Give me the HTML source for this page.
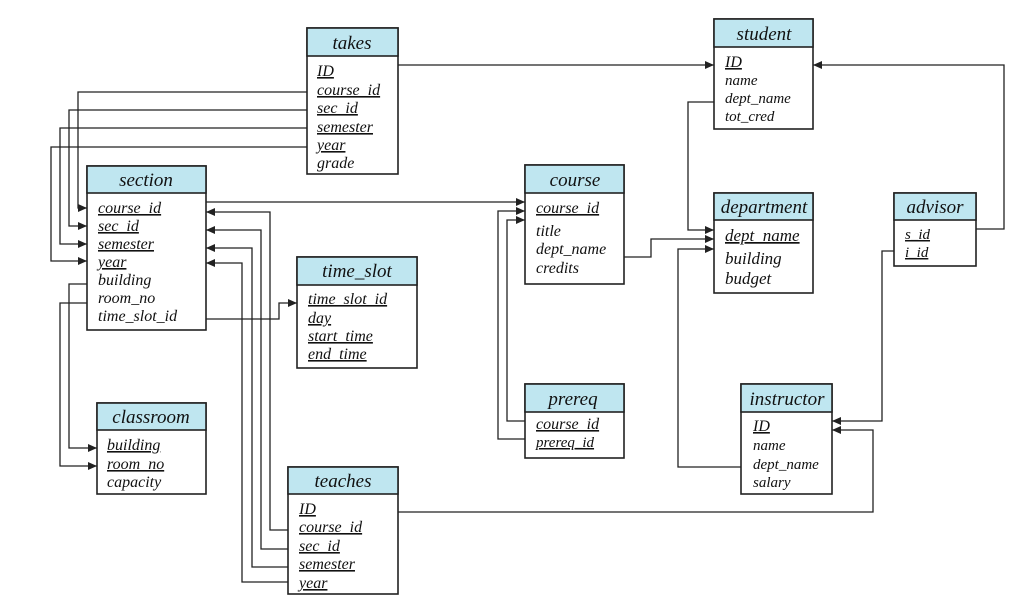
<!DOCTYPE html>
<html><head><meta charset="utf-8"><style>
html,body{margin:0;padding:0;background:#fff;}
svg{display:block;}
text{font-family:"Liberation Serif",serif;font-style:italic;fill:#111;}
.h{font-size:19px;text-anchor:middle;}
.r{font-size:16px;}
.s{font-size:15px;}
.u{text-decoration:underline;}
.hd{fill:#bfe6f0;stroke:#222;stroke-width:1.6;}
.bx{fill:#fff;stroke:#222;stroke-width:1.6;}
.ln{fill:none;stroke:#222;stroke-width:1.3;}
</style></head><body>
<svg width="1024" height="609" viewBox="0 0 1024 609" xmlns="http://www.w3.org/2000/svg">
<defs><marker id="a" markerWidth="9" markerHeight="8" refX="9" refY="4" orient="auto" markerUnits="userSpaceOnUse"><path d="M0,0 L9,4 L0,8 Z" fill="#222"/></marker></defs>

<g class="ln" marker-end="url(#a)">
<path d="M398,65 H714"/>
<path d="M307,92 H78 V208 H87"/>
<path d="M307,110 H69 V226 H87"/>
<path d="M307,128 H60 V244 H87"/>
<path d="M307,147 H51 V261 H87"/>
<path d="M288,530 H270 V212 H206"/>
<path d="M288,549 H261 V230 H206"/>
<path d="M288,567 H252 V248 H206"/>
<path d="M288,582 H242 V263 H206"/>
<path d="M206,202 H525"/>
<path d="M525,421 H507 V220 H525"/>
<path d="M525,439 H498 V211 H525"/>
<path d="M206,319 H279 V303 H297"/>
<path d="M87,284 H69 V448 H97"/>
<path d="M87,303 H60 V466 H97"/>
<path d="M624,257 H651 V239 H714"/>
<path d="M714,102 H688 V230 H714"/>
<path d="M741,467 H678 V249 H714"/>
<path d="M976,229 H1004 V65 H813"/>
<path d="M894,251 H882 V421 H832"/>
<path d="M398,512 H873 V430 H832"/>
</g>

<rect class="bx" x="307" y="28" width="91" height="146"/><rect class="hd" x="307" y="28" width="91" height="28"/>
<text class="h" x="352" y="49">takes</text>
<text class="r u" x="317" y="76">ID</text>
<text class="r u" x="317" y="95">course_id</text>
<text class="r u" x="317" y="113">sec_id</text>
<text class="r u" x="317" y="132">semester</text>
<text class="r u" x="317" y="150">year</text>
<text class="r" x="317" y="168">grade</text>

<rect class="bx" x="87" y="166" width="119" height="164"/><rect class="hd" x="87" y="166" width="119" height="27"/>
<text class="h" x="146" y="186">section</text>
<text class="r u" x="98" y="213">course_id</text>
<text class="r u" x="98" y="231">sec_id</text>
<text class="r u" x="98" y="249">semester</text>
<text class="r u" x="98" y="267">year</text>
<text class="r" x="98" y="285">building</text>
<text class="r" x="98" y="303">room_no</text>
<text class="r" x="98" y="321">time_slot_id</text>

<rect class="bx" x="297" y="257" width="120" height="111"/><rect class="hd" x="297" y="257" width="120" height="28"/>
<text class="h" x="357" y="277">time_slot</text>
<text class="r u" x="308" y="304">time_slot_id</text>
<text class="r u" x="308" y="323">day</text>
<text class="r u" x="308" y="341">start_time</text>
<text class="r u" x="308" y="359">end_time</text>

<rect class="bx" x="97" y="403" width="109" height="91"/><rect class="hd" x="97" y="403" width="109" height="27"/>
<text class="h" x="151" y="423">classroom</text>
<text class="r u" x="107" y="450">building</text>
<text class="r u" x="107" y="469">room_no</text>
<text class="r" x="107" y="487">capacity</text>

<rect class="bx" x="288" y="467" width="110" height="127"/><rect class="hd" x="288" y="467" width="110" height="27"/>
<text class="h" x="343" y="487">teaches</text>
<text class="r u" x="299" y="514">ID</text>
<text class="r u" x="299" y="532">course_id</text>
<text class="r u" x="299" y="551">sec_id</text>
<text class="r u" x="299" y="569">semester</text>
<text class="r u" x="299" y="588">year</text>

<rect class="bx" x="525" y="165" width="99" height="119"/><rect class="hd" x="525" y="165" width="99" height="28"/>
<text class="h" x="575" y="186">course</text>
<text class="r u" x="536" y="213">course_id</text>
<text class="r" x="536" y="236">title</text>
<text class="r" x="536" y="254">dept_name</text>
<text class="r" x="536" y="273">credits</text>

<rect class="bx" x="525" y="384" width="99" height="74"/><rect class="hd" x="525" y="384" width="99" height="28"/>
<text class="h" x="573" y="405">prereq</text>
<text class="r u" x="536" y="429">course_id</text>
<text class="s u" x="536" y="447">prereq_id</text>

<rect class="bx" x="714" y="19" width="99" height="110"/><rect class="hd" x="714" y="19" width="99" height="28"/>
<text class="h" x="764" y="40">student</text>
<text class="r u" x="725" y="67">ID</text>
<text class="s" x="725" y="85">name</text>
<text class="s" x="725" y="103">dept_name</text>
<text class="s" x="725" y="121">tot_cred</text>

<rect class="bx" x="714" y="193" width="99" height="100"/><rect class="hd" x="714" y="193" width="99" height="27"/>
<text class="h" x="764" y="213">department</text>
<text class="r u" x="725" y="241" style="font-size:17px">dept_name</text>
<text class="r" x="725" y="264" style="font-size:17px">building</text>
<text class="r" x="725" y="284" style="font-size:17px">budget</text>

<rect class="bx" x="894" y="193" width="82" height="73"/><rect class="hd" x="894" y="193" width="82" height="27"/>
<text class="h" x="935" y="213">advisor</text>
<text class="s u" x="905" y="239">s_id</text>
<text class="s u" x="905" y="257">i_id</text>

<rect class="bx" x="741" y="384" width="91" height="110"/><rect class="hd" x="741" y="384" width="91" height="28"/>
<text class="h" x="787" y="405">instructor</text>
<text class="r u" x="753" y="431">ID</text>
<text class="s" x="753" y="450">name</text>
<text class="s" x="753" y="469">dept_name</text>
<text class="s" x="753" y="487">salary</text>
</svg>
</body></html>
